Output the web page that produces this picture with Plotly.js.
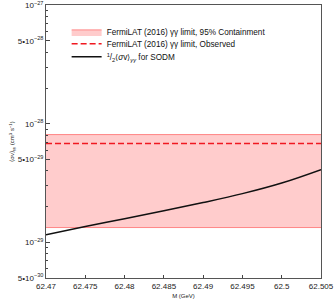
<!DOCTYPE html>
<html><head><meta charset="utf-8">
<script src="https://cdn.plot.ly/plotly-3.0.1.min.js"></script>
<style>html,body{margin:0;padding:0;background:#fff}#chart{width:334px;height:302px}</style>
</head><body><div id="chart"></div>
<script>
// Data
const massGeV = [62.47, 62.475, 62.48, 62.485, 62.49, 62.495, 62.5, 62.505];
const sodmSigmaV = [1.156e-29, 1.355e-29, 1.58e-29, 1.84e-29, 2.16e-29, 2.57e-29, 3.16e-29, 4.10e-29];
const bandX = [62.47, 62.505];
const band95Upper = [8.1e-29, 8.1e-29];
const band95Lower = [1.33e-29, 1.33e-29];
const observedLimit = [6.8e-29, 6.8e-29];
const xTickVals = [62.47, 62.475, 62.48, 62.485, 62.49, 62.495, 62.5, 62.505];
const xTickText = ["62.47", "62.475", "62.48", "62.485", "62.49", "62.495", "62.5", "62.505"];
const yTickVals = [1e-27, 5e-28, 1e-28, 5e-29, 1e-29, 5e-30];
const yTickText = ["10<sup>\u221227</sup>", "5\u202210<sup>\u221228</sup>", "10<sup>\u221228</sup>", "5\u202210<sup>\u221229</sup>", "10<sup>\u221229</sup>", "5\u202210<sup>\u221230</sup>"];
const yMinorVals = [2e-28,3e-28,4e-28,6e-28,7e-28,8e-28,9e-28,2e-29,3e-29,4e-29,6e-29,7e-29,8e-29,9e-29,6e-30,7e-30,8e-30,9e-30];

const traces = [
  {x: bandX, y: band95Lower, mode: 'lines', line: {color: 'rgba(255,110,110,0.8)', width: 1}, showlegend: false, hoverinfo: 'skip'},
  {x: bandX, y: band95Upper, mode: 'lines', fill: 'tonexty', fillcolor: 'rgba(255,170,170,0.6)',
   line: {color: 'rgba(255,110,110,0.8)', width: 1}, legend: 'legend',
   name: 'FermiLAT (2016) \u03b3\u03b3 limit, 95% Containment'},
  {x: bandX, y: observedLimit, mode: 'lines', line: {color: '#f01820', width: 1.5, dash: '6px,3px'},
   legend: 'legend2', name: 'FermiLAT (2016) \u03b3\u03b3 limit, Observed'},
  {x: massGeV, y: sodmSigmaV, mode: 'lines', line: {color: '#111', width: 1.5, shape: 'spline'},
   legend: 'legend3', name: '<sup>1</sup>/<sub>2</sub>\u27e8<i>\u03c3</i>v\u27e9<sub><i>\u03b3\u03b3</i></sub> for SODM'}
];

const legFont = {family: 'Liberation Sans, Arial, sans-serif', size: 8.2, color: '#111'};
function leg(y) {
  return {x: 0.075, y: y, xanchor: 'left', yanchor: 'middle', bgcolor: 'rgba(0,0,0,0)',
          font: legFont, itemwidth: 30, borderwidth: 0};
}
const layout = {
  width: 334, height: 302,
  margin: {l: 46, r: 13, t: 5, b: 24},
  paper_bgcolor: '#fff', plot_bgcolor: '#fff',
  font: {family: 'Liberation Sans, Arial, sans-serif', size: 8, color: '#222'},
  showlegend: true,
  legend: leg(0.9015), legend2: leg(0.8577), legend3: leg(0.8102),
  xaxis: {range: [62.47, 62.505], tickmode: 'array', tickvals: xTickVals, ticktext: xTickText,
          ticks: 'inside', ticklen: 3, tickcolor: '#444', showline: true, linecolor: '#555', linewidth: 1,
          mirror: true, showgrid: false, zeroline: false, ticklabeloverflow: 'allow',
          tickfont: {family: 'Liberation Sans, Arial, sans-serif', size: 8, color: '#222'},
          title: {text: 'M (GeV)', font: {size: 6, color: '#222'}, standoff: 4}},
  yaxis: {type: 'log', range: [Math.log10(5e-30) - 0.001, -26.998], tickmode: 'array', tickvals: yTickVals, ticktext: yTickText,
          ticks: 'inside', ticklen: 4, tickcolor: '#444', showline: true, linecolor: '#555', linewidth: 1,
          mirror: true, showgrid: false, zeroline: false, ticklabeloverflow: 'allow',
          minor: {tickvals: yMinorVals, ticks: 'inside', ticklen: 2, tickcolor: '#444', showgrid: false},
          tickfont: {family: 'Liberation Sans, Arial, sans-serif', size: 8, color: '#222'},
          title: {text: '\u27e8\u03c3v\u27e9<sub>\u03b3\u03b3</sub> (cm<sup>3</sup> s<sup>\u22121</sup>)', font: {size: 6, color: '#222'}, standoff: 2}}
};
Plotly.newPlot('chart', traces, layout, {displayModeBar: false, staticPlot: true});
</script></body></html>
